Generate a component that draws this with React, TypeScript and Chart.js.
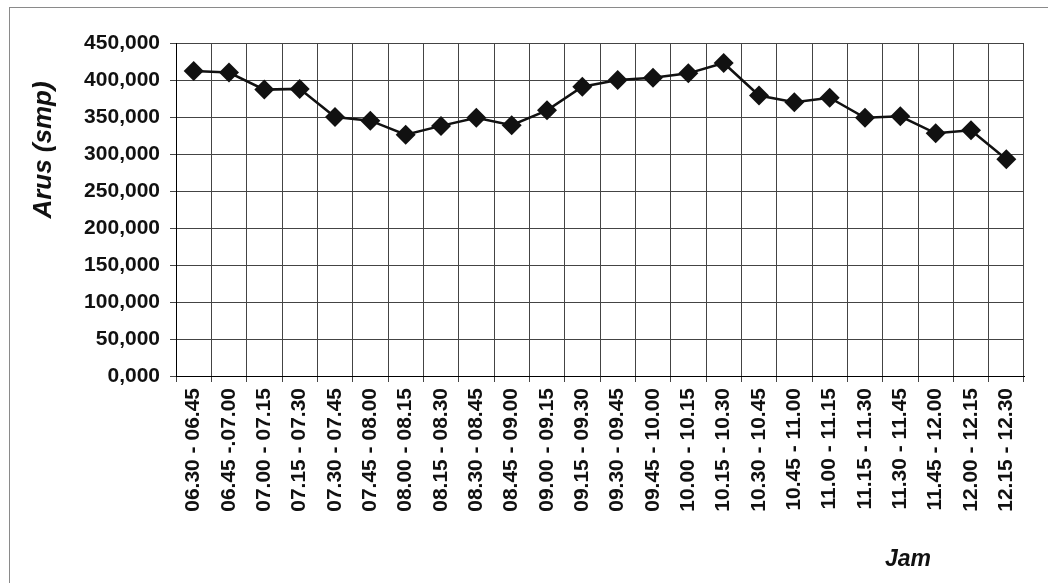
import { useEffect, useRef } from "react";
import { Chart, registerables } from "chart.js";

Chart.register(...registerables);

// 15-minute observation periods
const categories: string[] = [
  "06.30 - 06.45",
  "06.45 -.07.00",
  "07.00 - 07.15",
  "07.15 - 07.30",
  "07.30 - 07.45",
  "07.45 - 08.00",
  "08.00 - 08.15",
  "08.15 - 08.30",
  "08.30 - 08.45",
  "08.45 - 09.00",
  "09.00 - 09.15",
  "09.15 - 09.30",
  "09.30 - 09.45",
  "09.45 - 10.00",
  "10.00 - 10.15",
  "10.15 - 10.30",
  "10.30 - 10.45",
  "10.45 - 11.00",
  "11.00 - 11.15",
  "11.15 - 11.30",
  "11.30 - 11.45",
  "11.45 - 12.00",
  "12.00 - 12.15",
  "12.15 - 12.30",
];

// traffic flow per period (smp)
const arusValues: number[] = [
  412, 410, 387, 388, 350, 345, 326, 338, 349, 339, 359, 391,
  400, 403, 409, 423, 379, 370, 376, 349, 351, 328, 332, 293,
];

const yMin = 0;
const yMax = 450;
const yStep = 50;

const yTitle = "Arus (smp)";
const xTitle = "Jam";

const FONT = '"Liberation Sans", Arial, sans-serif';

const titlePlugin = {
  id: "axisTitles",
  afterDraw(chart: Chart) {
    const ctx = chart.ctx;
    ctx.save();
    ctx.fillStyle = "#111";
    ctx.font = `italic bold 26px ${FONT}`;
    ctx.translate(44, 150);
    ctx.rotate(-Math.PI / 2);
    ctx.textAlign = "center";
    ctx.textBaseline = "middle";
    ctx.fillText(yTitle, 0, 0);
    ctx.restore();

    ctx.save();
    ctx.fillStyle = "#111";
    ctx.font = `italic bold 23px ${FONT}`;
    ctx.textAlign = "left";
    ctx.textBaseline = "alphabetic";
    ctx.fillText(xTitle, 885, 566);
    ctx.restore();
  },
};

export default function App() {
  const canvasRef = useRef<HTMLCanvasElement | null>(null);

  useEffect(() => {
    if (!canvasRef.current) return;
    const tickFont = { family: FONT, size: 21, weight: "bold" as const };
    const chart = new Chart(canvasRef.current, {
      type: "line",
      data: {
        labels: categories,
        datasets: [
          {
            data: arusValues,
            borderColor: "#111",
            borderWidth: 2.5,
            pointStyle: "rectRot",
            pointRadius: 10,
            pointBackgroundColor: "#111",
            pointBorderColor: "#111",
            pointBorderWidth: 0,
            tension: 0,
            fill: false,
          },
        ],
      },
      options: {
        animation: false,
        responsive: true,
        maintainAspectRatio: false,
        layout: { padding: { top: 43, right: 24, left: 0, bottom: 0 } },
        plugins: {
          legend: { display: false },
          tooltip: { enabled: false },
        },
        scales: {
          x: {
            type: "category",
            offset: true,
            grid: {
              offset: true,
              color: "#444",
              lineWidth: 1,
              tickLength: 6,
            },
            border: { color: "#000", width: 1 },
            ticks: {
              font: tickFont,
              color: "#111",
              minRotation: 90,
              maxRotation: 90,
              autoSkip: false,
              padding: 6,
            },
            afterFit(scale: any) {
              scale.height = 207;
            },
          },
          y: {
            min: yMin,
            max: yMax,
            grid: { color: "#444", lineWidth: 1, tickLength: 6 },
            border: { color: "#000", width: 1 },
            ticks: {
              stepSize: yStep,
              font: tickFont,
              color: "#111",
              padding: 10,
              callback: (v: any) => Number(v).toFixed(3).replace(".", ","),
            },
            afterFit(scale: any) {
              scale.width = 176;
            },
          },
        },
      },
      plugins: [titlePlugin],
    });
    return () => chart.destroy();
  }, []);

  return (
    <div
      style={{
        position: "fixed",
        left: 0,
        top: 0,
        width: 1048,
        height: 583,
        background: "#fff",
        overflow: "hidden",
      }}
    >
      <canvas ref={canvasRef} style={{ display: "block" }} />
      <div
        style={{
          position: "absolute",
          left: 9,
          top: 7,
          width: 1100,
          height: 650,
          borderTop: "1px solid #8a8a8a",
          borderLeft: "1px solid #8a8a8a",
          pointerEvents: "none",
        }}
      />
    </div>
  );
}
